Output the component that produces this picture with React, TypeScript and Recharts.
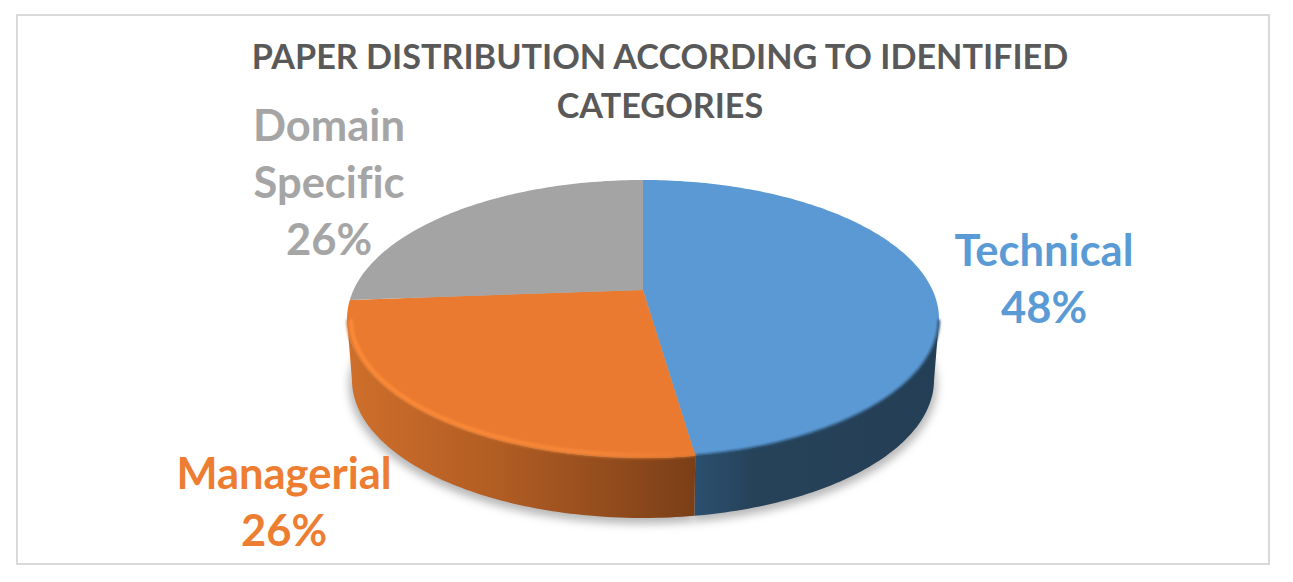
import { Pie, PieChart } from "recharts";

const CATEGORIES = ["Technical", "Managerial", "Domain Specific"];
const SHARES = [48, 26, 26];
const TOP_COLORS = ["#5b99d5", "#ea7a30", "#a4a4a4"];
const LABEL_COLORS = ["#5b9bd5", "#ed7d31", "#a5a5a5"];
const TITLE_LINES = ["PAPER DISTRIBUTION ACCORDING TO IDENTIFIED", "CATEGORIES"];

const data = CATEGORIES.map((name, i) => ({
  name,
  value: SHARES[i],
  fill: TOP_COLORS[i],
}));

const FONT = "Lato, 'Open Sans', sans-serif";
const SQUASH = 139 / 296; // ellipse height / width of the top face
const APEX_UP = 29 / 139; // the point of the wedges sits above the ellipse centre
const PERSPECTIVE = 0.105;
const TWIST = 0.0113; // small correction, zero at the top of the pie
const BASE = { dy: 61, rx: 291, ry: 138 };

// Excel's 3D pie is a tilted circle: angles get bunched toward the viewer
function warp(deg: number): number {
  const r = (deg * Math.PI) / 180;
  const re = Math.cos(r);
  const im = Math.sin(r);
  const a = PERSPECTIVE;
  const num = Math.atan2(im + a, re);
  const den = Math.atan2(-a * re, 1 + a * im);
  const t = num - den;
  return t + TWIST * (1 - Math.sin(t));
}

function rimAngles(start: number, end: number): number[] {
  const out: number[] = [];
  const steps = Math.max(2, Math.ceil(Math.abs(end - start)));
  for (let i = 0; i <= steps; i++) out.push(warp(start + ((end - start) * i) / steps));
  return out;
}

const toPath = (pts: number[][]) =>
  pts.map((p, i) => `${i ? "L" : "M"}${p[0].toFixed(2)},${p[1].toFixed(2)}`).join(" ");

function Slice(props: any) {
  const { cx, cy, outerRadius, startAngle, endAngle, fill, name } = props;
  const idx = CATEGORIES.indexOf(name);
  const rx = outerRadius;
  const ry = outerRadius * SQUASH;
  const ts = rimAngles(startAngle, endAngle);
  const rim = ts.map((t) => [cx + rx * Math.cos(t), cy - ry * Math.sin(t)]);
  const apex = [cx, cy - ry * APEX_UP];
  const front = ts.filter((t) => Math.sin(t) <= 0);
  const frontRim = front.map((t) => [cx + rx * Math.cos(t), cy - ry * Math.sin(t)]);
  const baseRim = front.map((t) => [
    cx + BASE.rx * Math.cos(t),
    cy + BASE.dy - BASE.ry * Math.sin(t),
  ]);
  const inset = front.map((t) => [
    cx + (rx - 4) * Math.cos(t),
    cy - (ry - 3) * Math.sin(t),
  ]);
  return (
    <g>
      {front.length > 1 && (
        <path d={toPath([...frontRim, ...[...baseRim].reverse()]) + " Z"} fill={`url(#wall${idx})`} />
      )}
      <path d={toPath([apex, ...rim]) + " Z"} fill={fill} />
      {front.length > 1 && idx === 0 && (
        <path d={toPath(frontRim)} fill="none" stroke="#2a4f6e" strokeWidth={2.5} filter="url(#soft)" />
      )}
      {front.length > 1 && idx === 1 && (
        <>
          <path d={toPath(frontRim)} fill="none" stroke="#c9702f" strokeWidth={1.5} filter="url(#soft)" />
          <path d={toPath(inset)} fill="none" stroke="url(#bevel)" strokeWidth={4} filter="url(#soft)" />
        </>
      )}
    </g>
  );
}

function GroundShadow(props: any) {
  const { cx, cy, startAngle, endAngle } = props;
  const ts = rimAngles(startAngle, endAngle);
  const rim = ts.map((t) => [
    cx + (BASE.rx + 3) * Math.cos(t),
    cy + BASE.dy + 5 - (BASE.ry + 1) * Math.sin(t),
  ]);
  return <path d={toPath([[cx, cy + BASE.dy], ...rim]) + " Z"} fill="#b8b8b8" filter="url(#shadow)" />;
}

const LABEL_LINES = [["Technical"], ["Managerial"], ["Domain", "Specific"]];
const LABEL_SPOTS = [
  { x: 1044, y: 266 },
  { x: 284, y: 489 },
  { x: 329, y: 141 },
];

function SliceLabel({ index, value }: any) {
  const spot = LABEL_SPOTS[index];
  const lines = [...LABEL_LINES[index], `${value}%`];
  return (
    <text
      x={spot.x}
      y={spot.y}
      textAnchor="middle"
      fill={LABEL_COLORS[index]}
      fontFamily={FONT}
      fontWeight={700}
      fontSize={43.5}
      style={{ fontVariantLigatures: "none" }}
    >
      {lines.map((line, i) => (
        <tspan key={line} x={spot.x} dy={i ? 57 : 0}>
          {line}
        </tspan>
      ))}
    </text>
  );
}

export default function App() {
  return (
    <div style={{ position: "absolute", left: 0, top: 0, width: 1293, height: 582, background: "#fff" }}>
      <div
        style={{
          position: "absolute",
          left: 16,
          top: 14,
          width: 1250,
          height: 547,
          border: "2px solid #d9d9d9",
        }}
      />
      <PieChart
        width={1293}
        height={582}
        margin={{ top: 0, right: 0, bottom: 0, left: 0 }}
        style={{ position: "absolute", left: 0, top: 0 }}
      >
        <defs>
          <linearGradient id="wall0" gradientUnits="userSpaceOnUse" x1={693} x2={939} y1={0} y2={0}>
            <stop offset="0" stopColor="#2b5070" />
            <stop offset="0.25" stopColor="#264259" />
            <stop offset="1" stopColor="#243e55" />
          </linearGradient>
          <linearGradient id="wall1" gradientUnits="userSpaceOnUse" x1={347} x2={693} y1={0} y2={0}>
            <stop offset="0" stopColor="#cf6f2b" />
            <stop offset="0.45" stopColor="#b05c23" />
            <stop offset="1" stopColor="#7b3f18" />
          </linearGradient>
          <linearGradient id="bevel" gradientUnits="userSpaceOnUse" x1={347} x2={693} y1={0} y2={0}>
            <stop offset="0" stopColor="#fb8a38" />
            <stop offset="0.7" stopColor="#f5873a" />
            <stop offset="1" stopColor="#ea7a30" />
          </linearGradient>
          <filter id="soft" x="-10%" y="-10%" width="120%" height="120%">
            <feGaussianBlur stdDeviation={1.1} />
          </filter>
          <filter id="shadow" x="-10%" y="-10%" width="120%" height="120%">
            <feGaussianBlur stdDeviation={4} />
          </filter>
        </defs>
        {TITLE_LINES.map((line, i) => (
          <text
            key={line}
            x={660}
            y={69 + i * 49}
            textAnchor="middle"
            fill="#595959"
            fontFamily={FONT}
            fontWeight={700}
            fontSize={34.2}
          >
            {line}
          </text>
        ))}
        <Pie
          data={data}
          dataKey="value"
          nameKey="name"
          cx={643}
          cy={319}
          outerRadius={296}
          startAngle={90}
          endAngle={-270}
          stroke="none"
          shape={GroundShadow}
          isAnimationActive={false}
        />
        <Pie
          data={data}
          dataKey="value"
          nameKey="name"
          cx={643}
          cy={319}
          outerRadius={296}
          startAngle={90}
          endAngle={-270}
          stroke="none"
          shape={Slice}
          label={SliceLabel}
          labelLine={false}
          isAnimationActive={false}
        />
      </PieChart>
    </div>
  );
}
